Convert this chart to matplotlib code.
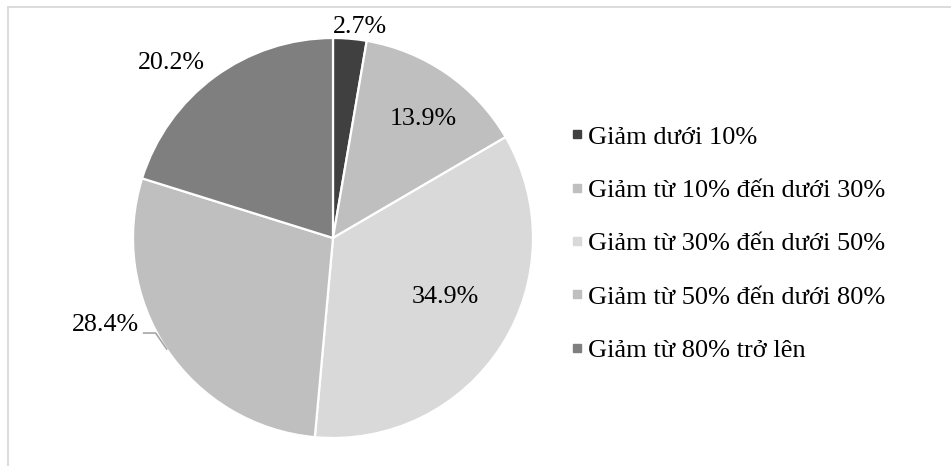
import numpy as np
import matplotlib
matplotlib.use("Agg")
import matplotlib.pyplot as plt
from matplotlib.lines import Line2D

plt.rcParams['font.family'] = ['Liberation Serif', 'DejaVu Serif']
SERIF = ['Liberation Serif', 'DejaVu Serif']

# data
categories = ["Giảm dưới 10%",
              "Giảm từ 10% đến dưới 30%",
              "Giảm từ 30% đến dưới 50%",
              "Giảm từ 50% đến dưới 80%",
              "Giảm từ 80% trở lên"]
shares = [2.7, 13.9, 34.9, 28.4, 20.2]
colors = ["#404040", "#bfbfbf", "#d9d9d9", "#bfbfbf", "#7f7f7f"]

# label placement: radius factor and angle offset (deg) from slice middle
label_r = [1.065, 0.745, 0.635, None, 1.19]
label_dang = [-2.4, -2.4, 4.8, 0, 6.4]

W, H = 951, 466
fig = plt.figure(figsize=(W / 100, H / 100), dpi=100)

# pie axes: centre (333, 238) px, radius 200 px
cx, cy, R = 333, 238, 200
ax = fig.add_axes([(cx - R) / W, (H - cy - R) / H, 2 * R / W, 2 * R / H])
wedges, _ = ax.pie(shares, colors=colors, startangle=90, counterclock=False,
                   radius=1, wedgeprops=dict(edgecolor="white", linewidth=1.6))
ax.set_xlim(-1, 1)
ax.set_ylim(-1, 1)
ax.set_aspect("equal")
ax.axis("off")

fs = 18.7
for i, (w, v) in enumerate(zip(wedges, shares)):
    mid = (w.theta1 + w.theta2) / 2
    txt = f"{v:.1f}%"
    if label_r[i] is None:
        # outside label with leader line
        a = np.deg2rad(mid)
        ex, ey = np.cos(a), np.sin(a)
        kx, ky = ex - 0.055, ey + 0.08
        hx = kx - 0.06
        ax.plot([ex, kx, hx], [ey, ky, ky], color="#a6a6a6", lw=1.2,
                clip_on=False)
        ax.text(hx - 0.025, ky + 0.04, txt, ha="right", va="center",
                fontsize=fs, color="black", family=SERIF)
        continue
    a = np.deg2rad(mid + label_dang[i])
    ax.text(label_r[i] * np.cos(a), label_r[i] * np.sin(a), txt,
            ha="center", va="center", fontsize=fs, color="black",
            family=SERIF)

# legend
handles = [Line2D([0], [0], marker="s", linestyle="none", markersize=5.8,
                  markerfacecolor=c, markeredgecolor=c) for c in colors]
fig.legend(handles, categories, loc="center left",
           bbox_to_anchor=(558 / W, 1 - 243.5 / H), frameon=False,
           prop=dict(family=SERIF, size=19), handlelength=0.45,
           handletextpad=0.2, labelspacing=1.13, borderpad=0)

# chart border (only top and left visible in crop)
fig.add_artist(Line2D([7.5 / W, 7.5 / W], [0, 1 - 6.5 / H],
                      transform=fig.transFigure, color="#d9d9d9", lw=1.3))
fig.add_artist(Line2D([7.5 / W, 1], [1 - 6.5 / H, 1 - 6.5 / H],
                      transform=fig.transFigure, color="#d9d9d9", lw=1.3))

fig.savefig("out.png", dpi=100, facecolor="white")
